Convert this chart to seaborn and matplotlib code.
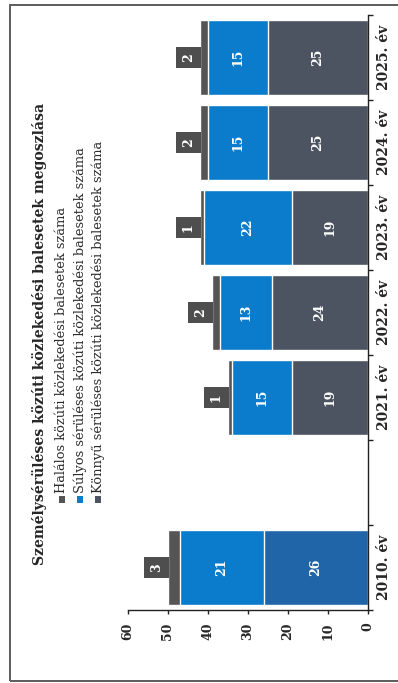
import numpy as np
import pandas as pd
import matplotlib
matplotlib.use("Agg")
import matplotlib.pyplot as plt
from matplotlib.patches import Rectangle
from matplotlib.ticker import FixedLocator
import seaborn as sns

# ── DATA ──────────────────────────────────────────────────────────────────────
YEARS   = ["2025. év", "2024. év", "2023. év", "2022. év", "2021. év", " ", "2010. év"]
KONNYU  = [25, 25, 19, 24, 19, np.nan, 26]   # könnyű sérüléses
SULYOS  = [15, 15, 22, 13, 15, np.nan, 21]   # súlyos sérüléses
HALALOS = [2, 2, 1, 2, 1, np.nan, 3]         # halálos

TITLE = "Személysérüléses közúti közlekedési balesetek megoszlása"
LEGEND_LABELS = ["Halálos közúti közlekedési balesetek száma",
                 "Súlyos sérüléses közúti közlekedési balesetek száma",
                 "Könnyű sérüléses közúti közlekedési balesetek száma"]

# ── COLOURS ───────────────────────────────────────────────────────────────────
GREY_H = "#555555"
BLUE   = "#0b7ccb"
SLATE  = "#4b5460"
BLUE_D = "#2065a8"      # 2010 light-injury segment is printed bluish
FRAME  = "#5c5c5c"

sns.set_theme(style="white")
plt.rcParams["font.family"] = ["DejaVu Serif"]

df = pd.DataFrame({"year": YEARS, "k": KONNYU, "s": SULYOS, "h": HALALOS})
df["ks"]  = df["k"] + df["s"]
df["tot"] = df["ks"] + df["h"]

fig = plt.figure(figsize=(3.98, 6.83), dpi=100)
ax = fig.add_axes([128 / 398, 1 - 610 / 683, 240 / 398, 595 / 683])

W = 0.88
sns.barplot(data=df, x="tot", y="year", order=YEARS, color=GREY_H,
            width=W, saturation=1, errorbar=None, ax=ax)
sns.barplot(data=df, x="ks", y="year", order=YEARS, color=BLUE,
            width=W, saturation=1, errorbar=None, ax=ax)
k_pal = {y: SLATE for y in YEARS}
k_pal["2010. év"] = BLUE_D
sns.barplot(data=df, x="k", y="year", order=YEARS, hue="year",
            palette=k_pal, legend=False, width=W, saturation=1,
            errorbar=None, ax=ax)

ax.set_xlim(60, 0)
ax.set_ylim(6.5, -0.5)
ax.set_xlabel("")
ax.set_ylabel("")

# value labels
lab = dict(color="white", fontsize=9, fontweight="bold", rotation=90,
           ha="center", va="center")
for i, row in df.iterrows():
    if np.isnan(row["k"]):
        continue
    ax.text(row["k"] / 2, i, f"{row['k']:.0f}", **lab)
    ax.text(row["k"] + row["s"] / 2, i, f"{row['s']:.0f}", **lab)
    ax.text(row["tot"] + 2.9, i, f"{row['h']:.0f}",
            bbox=dict(boxstyle="square,pad=0.5", fc="#4e4e4e", ec="none"), **lab)

# axes styling
for side in ["left", "top"]:
    ax.spines[side].set_visible(False)
for side in ["right", "bottom"]:
    ax.spines[side].set_visible(True)
    ax.spines[side].set_color("#222222")
    ax.spines[side].set_linewidth(1.0)

ax.yaxis.tick_right()
ax.yaxis.set_minor_locator(FixedLocator(np.arange(-0.5, 7, 1)))
ax.tick_params(axis="y", which="major", length=0, pad=6.5, labelsize=10,
               labelrotation=90)
ax.tick_params(axis="y", which="minor", right=True, length=3.5, width=1,
               direction="out", color="#222222")
for t in ax.get_yticklabels():
    t.set_fontweight("bold")
    t.set_va("center")

ax.set_xticks(range(0, 61, 10))
ax.tick_params(axis="x", bottom=True, length=3, width=1, direction="out",
               color="#222222", pad=6, labelsize=9, labelrotation=90)
for t in ax.get_xticklabels():
    t.set_fontweight("bold")
    t.set_va("top")

# title and legend (rotated, like the scan)
fig.text(40 / 398, 1 - 565 / 683, TITLE, rotation=90, ha="center", va="bottom",
         fontsize=10.1, fontweight="bold", color="#262626")
leg_x = [62, 80, 98]
leg_c = [GREY_H, BLUE, SLATE]
for x, c, t in zip(leg_x, leg_c, LEGEND_LABELS):
    fig.add_artist(Rectangle(((x - 3) / 398, 1 - 503 / 683), 6 / 398, 7 / 683,
                             transform=fig.transFigure, fc=c, ec="none"))
    fig.text(x / 398, 1 - 493 / 683, t, rotation=90, ha="center", va="bottom",
             fontsize=9.4, color="#2a2a2a")

# scanned page frame
fig.add_artist(Rectangle((10 / 398, 1 - 681 / 683), 1.0, 676 / 683,
                         transform=fig.transFigure, fill=False,
                         ec=FRAME, lw=1.4))

fig.savefig("out.png", dpi=100, facecolor="white")
